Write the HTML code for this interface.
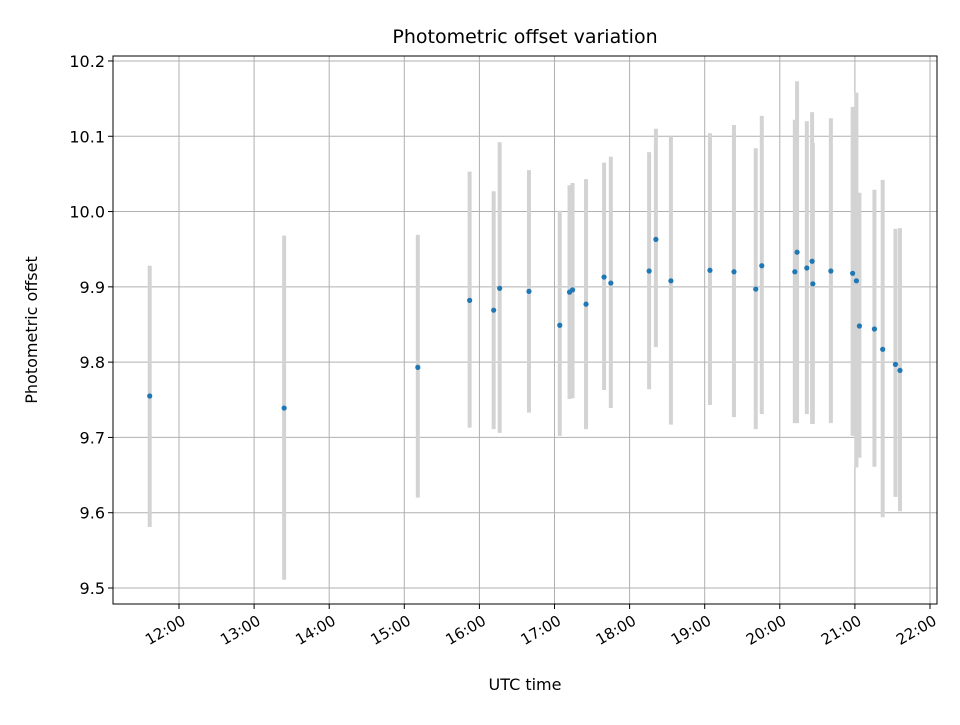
<!DOCTYPE html>
<html><head><meta charset="utf-8"><style>
body{margin:0;background:#fff;font-family:"Liberation Sans","DejaVu Sans",sans-serif;}
svg text{font-family:"DejaVu Sans","Liberation Sans",sans-serif;}
</style></head><body>
<svg id="chart" width="960" height="720" xmlns="http://www.w3.org/2000/svg"></svg>
<script>
const times=[11.61,13.40,15.18,15.87,16.19,16.27,16.66,17.07,17.20,17.24,17.42,17.66,17.75,18.26,18.35,18.55,19.07,19.39,19.68,19.76,20.20,20.23,20.36,20.43,20.44,20.68,20.97,21.02,21.06,21.26,21.37,21.54,21.60];
const values=[9.755,9.739,9.793,9.882,9.869,9.898,9.894,9.849,9.893,9.896,9.877,9.913,9.905,9.921,9.963,9.908,9.922,9.920,9.897,9.928,9.920,9.946,9.925,9.934,9.904,9.921,9.918,9.908,9.848,9.844,9.817,9.797,9.789];
const highs=[9.928,9.968,9.969,10.053,10.027,10.092,10.055,10.001,10.035,10.038,10.043,10.065,10.073,10.079,10.110,10.100,10.104,10.115,10.084,10.127,10.122,10.173,10.120,10.132,10.091,10.124,10.139,10.158,10.025,10.029,10.042,9.977,9.978];
const lows=[9.581,9.511,9.620,9.713,9.711,9.706,9.733,9.702,9.751,9.752,9.711,9.763,9.739,9.764,9.820,9.717,9.743,9.727,9.711,9.731,9.719,9.719,9.731,9.718,9.718,9.719,9.702,9.660,9.673,9.661,9.594,9.621,9.602];
const xTicks=[12,13,14,15,16,17,18,19,20,21,22];
const xTickLabels=["12:00","13:00","14:00","15:00","16:00","17:00","18:00","19:00","20:00","21:00","22:00"];
const yTicks=[9.5,9.6,9.7,9.8,9.9,10.0,10.1,10.2];
const yTickLabels=["9.5","9.6","9.7","9.8","9.9","10.0","10.1","10.2"];

const L=113,R=937,T=56,B=604;
const xs=h=>179+(h-12)*75.1;
const ys=v=>588-(v-9.5)*752.9;
const svg=document.getElementById('chart');
const NS="http://www.w3.org/2000/svg";
function mk(tag,attrs,parent){const e=document.createElementNS(NS,tag);for(const k in attrs)e.setAttribute(k,attrs[k]);(parent||svg).appendChild(e);return e;}

const grid=mk('g',{});


xTicks.forEach(t=>{const l=mk('line',{x1:xs(t),x2:xs(t),y1:T,y2:B,stroke:'#b0b0b0','stroke-width':1},grid);

});
yTicks.forEach(t=>{const l=mk('line',{x1:L,x2:R,y1:ys(t),y2:ys(t),stroke:'#b0b0b0','stroke-width':1},grid);

});

const bars=mk('g',{});


times.forEach((t,i)=>{const l=mk('line',{x1:xs(t),x2:xs(t),y1:ys(highs[i]),y2:ys(lows[i]),stroke:'#d3d3d3','stroke-width':4},bars);

});

const pts=mk('g',{});


times.forEach((t,i)=>{const c=mk('circle',{cx:xs(t),cy:ys(values[i]),r:2.6,fill:'#1f77b4'},pts);

});

const frame=mk('rect',{x:L,y:T,width:R-L,height:B-T,fill:'none',stroke:'#000','stroke-width':1});



xTicks.forEach((t,i)=>{const x=xs(t);
const tk=mk('line',{x1:x,x2:x,y1:B,y2:B+5,stroke:'#000'});


const ax=x+2, ay=B+10;
const tx=mk('text',{x:ax,y:ay,'font-size':15,'text-anchor':'end','dominant-baseline':'hanging',transform:`rotate(-30 ${ax} ${ay})`});
tx.textContent=xTickLabels[i];

});
yTicks.forEach((t,i)=>{const y=ys(t);
const tk=mk('line',{x1:L-5,x2:L,y1:y,y2:y,stroke:'#000'});


const tx=mk('text',{x:L-8,y:y+6,'font-size':16,'text-anchor':'end'});
tx.textContent=yTickLabels[i];

});

const title=mk('text',{x:525,y:43,'font-size':19,'text-anchor':'middle'});
title.textContent='Photometric offset variation';


const xt=mk('text',{x:525,y:690,'font-size':16,'text-anchor':'middle'});
xt.textContent='UTC time';


const yt=mk('text',{x:37,y:330,'font-size':16,'text-anchor':'middle',transform:'rotate(-90 37 330)'});
yt.textContent='Photometric offset';


</script>
</body></html>
